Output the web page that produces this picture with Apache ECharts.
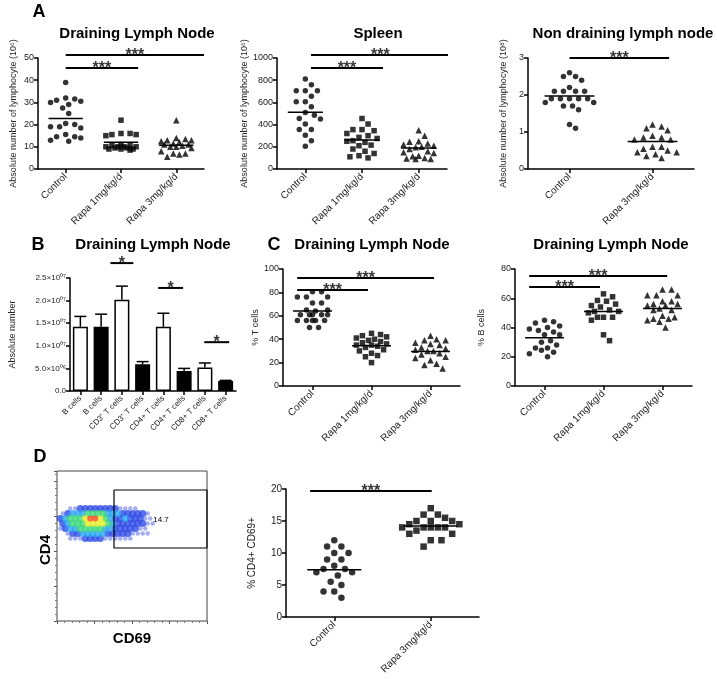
<!DOCTYPE html>
<html><head><meta charset="utf-8">
<script src="https://cdn.jsdelivr.net/npm/echarts@6/dist/echarts.min.js"></script>
<style>html,body{margin:0;padding:0;background:#fff}#c{width:717px;height:679px}</style>
</head><body><div id="c"></div>
<script>
// ---------------- DATA ----------------
const cats3 = ['Control', 'Rapa 1mg/kg/d', 'Rapa 3mg/kg/d'];
const cats2 = ['Control', 'Rapa 3mg/kg/d'];

// A: Draining lymph node (10^6)
const dlnCtrl = [39, 32, 31.5, 31, 30.5, 30, 29, 27.5, 25, 20.5, 20, 19, 19, 18.5, 15.5, 14.5, 14.5, 14, 13, 12.5];
const dlnR1 = [22, 16, 16, 15.5, 15.5, 15, 11, 10.5, 10.5, 10, 10, 10, 10, 9.5, 9.5, 9, 9, 9, 8.5];
const dlnR3 = [22, 14, 13.5, 13, 13, 12.5, 12, 11.5, 11, 11, 10.5, 10, 10, 9.5, 8, 7, 7, 6.5, 5.5];
const dlnMeans = [22.8, 12.1, 10.7];
// A: Spleen (10^6)
const splCtrl = [810, 760, 705, 705, 705, 655, 605, 605, 560, 510, 485, 455, 450, 405, 355, 355, 305, 255, 205];
const splR1 = [455, 405, 355, 355, 345, 320, 300, 285, 275, 255, 250, 240, 215, 210, 180, 160, 140, 120, 110, 100];
const splR3 = [350, 300, 250, 245, 230, 220, 210, 200, 195, 180, 160, 150, 145, 120, 115, 100, 95, 90, 90];
const splMeans = [512, 262, 190];
// A: Non draining lymph node (10^8)
const ndlnCtrl = [2.6, 2.5, 2.5, 2.4, 2.2, 2.1, 2.1, 2.1, 2.1, 1.9, 1.9, 1.9, 1.9, 1.9, 1.8, 1.8, 1.7, 1.7, 1.6, 1.2, 1.1];
const ndlnR3 = [1.2, 1.15, 1.1, 1.05, 0.9, 0.85, 0.85, 0.8, 0.8, 0.6, 0.6, 0.55, 0.5, 0.45, 0.45, 0.4, 0.35, 0.3];
const ndlnMeans = [1.97, 0.74];

// B: bars
const bLabels = ['B cells', 'B cells', 'CD3⁺ T cells', 'CD3⁺ T cells', 'CD4+ T cells', 'CD4+ T cells', 'CD8+ T cells', 'CD8+ T cells'];
const bGroup = ['Control', 'Rapa', 'Control', 'Rapa', 'Control', 'Rapa', 'Control', 'Rapa'];
const bMeans = [1.42e7, 1.42e7, 2.02e7, 5.9e6, 1.42e7, 4.4e6, 5.2e6, 2.2e6];
const bUpper = [1.65e7, 1.70e7, 2.32e7, 6.5e6, 1.72e7, 5.0e6, 6.2e6, 2.35e6];

// C: % T cells, % B cells
const tCtrl = [80.5, 80.5, 76, 76, 76, 71, 71, 65, 65, 64, 61, 61, 61, 61, 61, 56, 56, 56, 56, 56, 50, 50];
const tR1 = [45, 44, 43, 42, 41, 40, 39, 38, 37, 36, 35, 35, 34, 33, 31, 30, 28, 26, 25, 20];
const tR3 = [43, 40, 39, 39, 37, 36, 35, 33, 32, 31, 30, 30, 28, 27, 25, 24, 22, 19, 18, 15];
const tMeans = [64, 34.5, 29.5];
const bcCtrl = [45, 44, 43, 41, 40, 39, 38, 37, 35, 35, 31, 30, 28, 26, 26, 24.5, 23, 22, 20];
const bcR1 = [63, 61, 58.5, 58, 56, 55, 54, 52, 51, 51, 50, 47, 47, 47, 45, 35, 31];
const bcR3 = [66, 66, 62, 62, 62, 58, 58, 56, 56, 55, 55, 53, 52, 52, 48, 47, 46, 46, 45, 44, 40];
const bcMeans = [33, 51, 53];

// D: % CD4+ CD69+
const cd69Ctrl = [12, 11, 11, 10, 10, 9, 9, 8, 7.5, 7.5, 7, 7, 6.5, 5.5, 5, 4, 4, 3];
const cd69R3 = [17, 16, 16, 15.5, 15, 15, 15, 14.5, 14.5, 14, 14, 14, 14, 14, 13.5, 13, 13, 12, 12, 11];
const cd69Means = [7.4, 14.2];

// D: flow density (levels 0-6), rows from top; cell grid 30x30
const flowTopRow = 22;
const flowRows = [
  '001122222222111100000',
  '123334444333222221000',
  '234445665432232221100',
  '234445555432222221100',
  '123344444332222211000',
  '012233333222221111000',
  '001112222111111000000'
];
const gatePct = '14.7';

// ---------------- BUILD ----------------
const FONT = '"Liberation Sans", Arial, Helvetica, sans-serif';
const grids = [], xAxes = [], yAxes = [], series = [], graphics = [];

// column-scatter layout (beeswarm): spreads points with close values sideways
function swarm(vals, center, unitPerPx, catPx, sym) {
  const sorted = vals.slice().sort((a, b) => b - a);
  const h = sym * 0.55, sx = sym + 1, sy = sym * 1.5;
  const K = Math.max(1, Math.floor(0.3 * catPx / h));
  const cand = [0]; for (let k = 1; k <= K; k++) cand.push(k, -k);
  const placed = [];
  sorted.forEach(v => {
    const y = v / unitPerPx;
    let bestX = 0, bestScore = -1;
    for (const k of cand) {
      const x = k * h;
      let minD = Infinity;
      for (const p of placed) { const d = Math.hypot((p.x - x) / sx, (p.y - y) / sy); if (d < minD) minD = d; }
      if (minD >= 1) { bestX = x; break; }
      if (minD > bestScore) { bestScore = minD; bestX = x; }
    }
    placed.push({x: bestX, y: y, v: v});
  });
  return placed.map(p => [center + p.x / catPx, p.v]);
}

function addSig(xv, yi, s, fs) {
  series.push({type: 'line', xAxisIndex: xv, yAxisIndex: yi, symbol: 'none', clip: false, silent: true,
    lineStyle: {color: '#000', width: 2}, data: [[s.from, s.y], [s.to, s.y]], z: 5});
  series.push({type: 'scatter', xAxisIndex: xv, yAxisIndex: yi, symbolSize: 1, clip: false, silent: true,
    itemStyle: {color: 'rgba(0,0,0,0)'}, data: [[(s.from + s.to) / 2, s.y]], z: 6,
    label: {show: true, formatter: s.text, position: 'top', distance: 0, offset: [0, 9],
      fontSize: fs, fontWeight: 'bold', color: '#000', fontFamily: FONT}});
}

function axisCommon() {
  return {
    axisLine: {show: true, onZero: false, lineStyle: {color: '#000', width: 1.5}},
    axisTick: {show: true, length: 4, lineStyle: {color: '#000', width: 1.5}},
    splitLine: {show: false}
  };
}

function dotPanel(p) {
  const gi = grids.length;
  grids.push({left: p.left, top: p.top, width: p.width, height: p.height});
  xAxes.push(Object.assign(axisCommon(), {gridIndex: gi, type: 'category', data: p.cats, boundaryGap: true,
    axisTick: {show: true, alignWithLabel: true, length: 4, lineStyle: {color: '#000', width: 1.5}},
    axisLabel: {rotate: 45, interval: 0, fontSize: p.xFont || 10, color: '#222', fontFamily: FONT, margin: 6}}));
  const xv = xAxes.length;
  xAxes.push({gridIndex: gi, type: 'value', min: -0.5, max: p.cats.length - 0.5, show: false});
  const yi = yAxes.length;
  yAxes.push(Object.assign(axisCommon(), {gridIndex: gi, type: 'value', min: 0, max: p.yMax, interval: p.yInt,
    axisLabel: {fontSize: p.yFont || 9, color: '#222', fontFamily: FONT, margin: 4, formatter: v => String(v)},
    name: p.yName, nameLocation: 'middle', nameRotate: 90, nameGap: p.nameGap,
    nameTextStyle: {fontSize: p.nameFont || 9, color: '#222', fontFamily: FONT}}));
  const catPx = p.width / p.cats.length;
  const unitPerPx = p.yMax / p.height;
  p.groups.forEach((g, i) => {
    series.push({type: 'scatter', xAxisIndex: xv, yAxisIndex: yi, symbol: g.symbol,
      symbolSize: g.symbol === 'triangle' ? p.sym + 1 : p.sym, itemStyle: {color: '#000'}, clip: false, silent: true,
      data: swarm(g.values, i, unitPerPx, catPx, p.sym)});
    series.push({type: 'line', xAxisIndex: xv, yAxisIndex: yi, symbol: 'none', clip: false, silent: true,
      lineStyle: {color: '#000', width: 1.5}, data: [[i - p.half, p.means[i]], [i + p.half, p.means[i]]], z: 4});
  });
  (p.sig || []).forEach(s => addSig(xv, yi, s, p.starFont || 16));
}

// Panel A
dotPanel({left: 38, top: 58, width: 166, height: 111, cats: cats3, yMax: 50, yInt: 10,
  yName: 'Absolute number of lymphocyte (10⁶)', nameGap: 20, sym: 5.5, half: 0.31, means: dlnMeans,
  groups: [{values: dlnCtrl, symbol: 'circle'}, {values: dlnR1, symbol: 'rect'}, {values: dlnR3, symbol: 'triangle'}],
  sig: [{from: 0, to: 2.5, y: 51.3, text: '***'}, {from: 0, to: 1.31, y: 45.5, text: '***'}]});
dotPanel({left: 277, top: 58, width: 170, height: 111, cats: cats3, yMax: 1000, yInt: 200,
  yName: 'Absolute number of lymphocyte (10⁶)', nameGap: 27, sym: 5.5, half: 0.31, means: splMeans,
  groups: [{values: splCtrl, symbol: 'circle'}, {values: splR1, symbol: 'rect'}, {values: splR3, symbol: 'triangle'}],
  sig: [{from: 0.1, to: 2.55, y: 1027, text: '***'}, {from: 0.1, to: 1.37, y: 910, text: '***'}]});
dotPanel({left: 528, top: 58, width: 166, height: 111, cats: cats2, yMax: 3, yInt: 1,
  yName: 'Absolute number of lymphocyte (10⁸)', nameGap: 20, sym: 5.5, half: 0.3, means: ndlnMeans,
  groups: [{values: ndlnCtrl, symbol: 'circle'}, {values: ndlnR3, symbol: 'triangle'}],
  sig: [{from: 0, to: 1.2, y: 3.0, text: '***'}]});

// Panel C
dotPanel({left: 283, top: 269, width: 177, height: 117, cats: cats3, yMax: 100, yInt: 20,
  yName: '% T cells', nameGap: 22, sym: 5.5, half: 0.33, means: tMeans,
  groups: [{values: tCtrl, symbol: 'circle'}, {values: tR1, symbol: 'rect'}, {values: tR3, symbol: 'triangle'}],
  sig: [{from: -0.26, to: 2.06, y: 92.3, text: '***'}, {from: -0.26, to: 0.94, y: 82, text: '***'}]});
dotPanel({left: 515, top: 269, width: 177, height: 117, cats: cats3, yMax: 80, yInt: 20,
  yName: '% B cells', nameGap: 29, sym: 5.5, half: 0.33, means: bcMeans,
  groups: [{values: bcCtrl, symbol: 'circle'}, {values: bcR1, symbol: 'rect'}, {values: bcR3, symbol: 'triangle'}],
  sig: [{from: -0.26, to: 2.08, y: 75.2, text: '***'}, {from: -0.26, to: 0.94, y: 67.7, text: '***'}]});

// Panel D right
dotPanel({left: 286, top: 489, width: 193, height: 128, cats: cats2, yMax: 20, yInt: 5,
  yName: '% CD4+ CD69+', nameGap: 29, nameFont: 10, yFont: 10, xFont: 10, sym: 6.5, half: 0.28, means: cd69Means,
  groups: [{values: cd69Ctrl, symbol: 'circle'}, {values: cd69R3, symbol: 'rect'}],
  sig: [{from: -0.25, to: 1.01, y: 19.7, text: '***'}]});

// Panel B: bars
(function () {
  const gi = grids.length;
  grids.push({left: 70, top: 278, width: 166, height: 113});
  const xc = xAxes.length;
  xAxes.push(Object.assign(axisCommon(), {gridIndex: gi, type: 'category', data: bLabels, boundaryGap: true,
    axisTick: {show: true, alignWithLabel: true, length: 4, lineStyle: {color: '#000', width: 1.5}},
    axisLabel: {rotate: 45, interval: 0, fontSize: 8, color: '#222', fontFamily: FONT, margin: 6}}));
  const xv = xAxes.length;
  xAxes.push({gridIndex: gi, type: 'value', min: -0.5, max: bLabels.length - 0.5, show: false});
  const yi = yAxes.length;
  const sup = '⁰¹²³⁴⁵⁶⁷⁸⁹';
  yAxes.push(Object.assign(axisCommon(), {gridIndex: gi, type: 'value', min: 0, max: 2.5e7, interval: 5e6,
    axisLabel: {fontSize: 8, color: '#222', fontFamily: FONT, margin: 4, formatter: v => {
      if (v === 0) return '0.0';
      const e = Math.floor(Math.log10(v) + 1e-9);
      const m = v / Math.pow(10, e);
      return m.toFixed(1) + '×10' + String(e).padStart(2, '0').split('').map(d => sup[+d]).join('');
    }},
    name: 'Absolute number', nameLocation: 'middle', nameRotate: 90, nameGap: 53,
    nameTextStyle: {fontSize: 9, color: '#222', fontFamily: FONT}}));
  series.push({type: 'bar', xAxisIndex: xc, yAxisIndex: yi, barWidth: 15, silent: true,
    itemStyle: {borderColor: '#000', borderWidth: 1.5},
    data: bMeans.map((v, i) => ({value: v, itemStyle: {color: bGroup[i] === 'Control' ? '#fff' : '#000'}}))});
  series.push({type: 'custom', xAxisIndex: xv, yAxisIndex: yi, silent: true, clip: false,
    data: bMeans.map((v, i) => [i, v, bUpper[i]]), encode: {x: 0, y: [1, 2]}, z: 3,
    renderItem: (params, api) => {
      const x = api.value(0), p0 = api.coord([x, api.value(1)]), p1 = api.coord([x, api.value(2)]);
      const w = 6;
      return {type: 'group', children: [
        {type: 'line', shape: {x1: p0[0], y1: p0[1], x2: p1[0], y2: p1[1]}, style: {stroke: '#000', lineWidth: 1.5}},
        {type: 'line', shape: {x1: p1[0] - w, y1: p1[1], x2: p1[0] + w, y2: p1[1]}, style: {stroke: '#000', lineWidth: 1.5}}
      ]};
    }});
  addSig(xv, yi, {from: 1.45, to: 2.55, y: 2.83e7, text: '*'}, 16);
  addSig(xv, yi, {from: 3.75, to: 4.95, y: 2.28e7, text: '*'}, 16);
  addSig(xv, yi, {from: 5.97, to: 7.17, y: 1.08e7, text: '*'}, 16);
})();

// Panel D left: flow density
(function () {
  const gi = grids.length;
  grids.push({left: 57, top: 471, width: 150, height: 150, show: true, borderColor: '#444', borderWidth: 1, backgroundColor: 'rgba(0,0,0,0)'});
  const xi = xAxes.length;
  xAxes.push({gridIndex: gi, type: 'value', min: 0, max: 30, interval: 7.5,
    axisLine: {show: false}, axisLabel: {show: false}, splitLine: {show: false},
    axisTick: {show: true, length: 3, lineStyle: {color: '#555'}},
    minorTick: {show: true, splitNumber: 5, length: 2, lineStyle: {color: '#777'}}});
  const yi = yAxes.length;
  yAxes.push({gridIndex: gi, type: 'value', min: 0, max: 30, interval: 7,
    axisLine: {show: false}, axisLabel: {show: false}, splitLine: {show: false},
    axisTick: {show: true, length: 3, lineStyle: {color: '#555'}},
    minorTick: {show: true, splitNumber: 5, length: 2, lineStyle: {color: '#777'}}});
  const levelColors = [null, 'rgba(50,70,225,0.55)', '#2e4ae6', '#2aa6f2', '#3cd87a', '#e6ee2a', '#ff4a20'];
  const levelSize = [0, 4.5, 7, 7, 7, 6.5, 6];
  for (let lv = 1; lv <= 6; lv++) {
    const pts = [];
    flowRows.forEach((row, ri) => row.split('').forEach((ch, c) => { if (+ch === lv) pts.push([c + 0.9 + (ri % 2 ? 0.25 : -0.25), flowTopRow - ri + 0.5]); }));
    series.push({type: 'scatter', xAxisIndex: xi, yAxisIndex: yi, symbol: 'circle', symbolSize: levelSize[lv], silent: true,
      itemStyle: {color: levelColors[lv]}, data: pts, z: 2 + lv});
  }
  series.push({type: 'line', xAxisIndex: xi, yAxisIndex: yi, symbol: 'none', silent: true, z: 10,
    lineStyle: {color: '#000', width: 1.2}, data: [[11.4, 26.2], [30, 26.2], [30, 14.6], [11.4, 14.6], [11.4, 26.2]]});
})();

// Texts
function txt(x, y, s, font, rot) {
  graphics.push({type: 'text', x: x, y: y, rotation: rot || 0, silent: true,
    style: {text: s, font: font, fill: '#000', textAlign: 'center', align: 'center', textVerticalAlign: 'middle', verticalAlign: 'middle'}});
}
const bold = (n) => 'bold ' + n + 'px ' + FONT;
txt(39, 12, 'A', bold(18));
txt(38, 245, 'B', bold(18));
txt(274, 245, 'C', bold(18));
txt(40, 457, 'D', bold(18));
txt(137, 34, 'Draining Lymph Node', bold(15));
txt(378, 34, 'Spleen', bold(15));
txt(623, 34, 'Non draining lymph node', bold(15));
txt(153, 245, 'Draining Lymph Node', bold(15));
txt(372, 245, 'Draining Lymph Node', bold(15));
txt(611, 245, 'Draining Lymph Node', bold(15));
txt(46, 550, 'CD4', bold(15), Math.PI / 2);
txt(132, 639, 'CD69', bold(15));
txt(161, 520, gatePct, '8px ' + FONT);

const chart = echarts.init(document.getElementById('c'));
chart.setOption({animation: false, backgroundColor: '#fff', grid: grids, xAxis: xAxes, yAxis: yAxes, series: series, graphic: graphics});
</script></body></html>
